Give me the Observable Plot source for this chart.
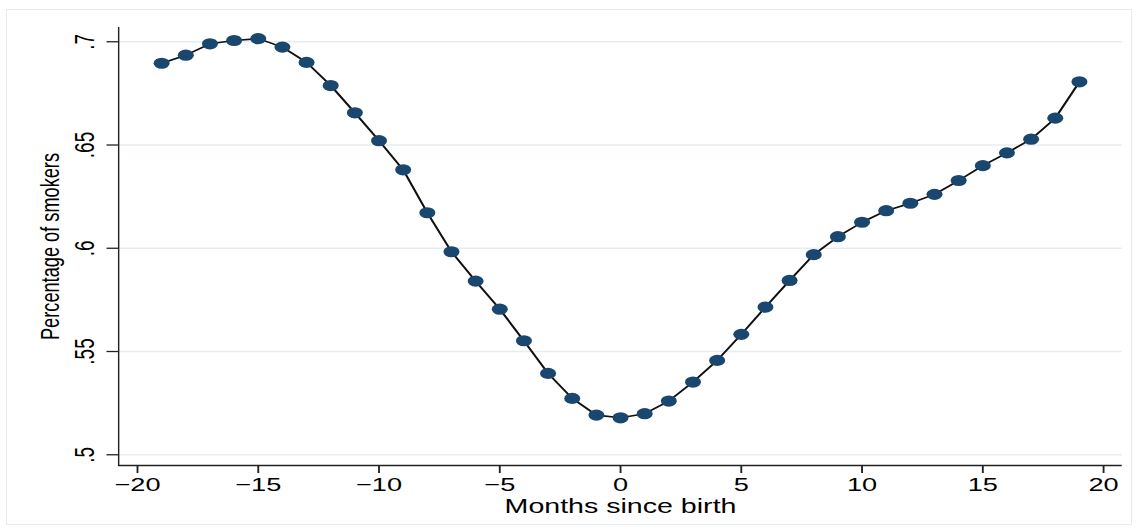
<!DOCTYPE html>
<html>
<head>
<meta charset="utf-8">
<script src="https://cdn.jsdelivr.net/npm/d3@7"></script>
<script src="https://cdn.jsdelivr.net/npm/@observablehq/plot@0.6"></script>
<style>
  html, body { margin: 0; padding: 0; background: #fff; }
  #wrap { position: relative; width: 1138px; height: 532px; overflow: hidden; background: #fff; }
  #border { position: absolute; left: 6px; top: 9px; width: 1124px; height: 514px; border: 1.5px solid #e6edf0; pointer-events: none; }
  #chart { position: absolute; left: 0; top: 0; }
</style>
</head>
<body>
<div id="wrap"><div id="chart"></div><div id="border"></div></div>
<script>
// ---- data ----
const months = [-19, -18, -17, -16, -15, -14, -13, -12, -11, -10, -9, -8, -7, -6, -5, -4, -3, -2, -1, 0,
  1, 2, 3, 4, 5, 6, 7, 8, 9, 10, 11, 12, 13, 14, 15, 16, 17, 18, 19];
const smokers = [0.6896, 0.6935, 0.6990, 0.7006, 0.7015, 0.6974, 0.6900, 0.6788, 0.6656, 0.6521, 0.6380,
  0.6172, 0.5983, 0.5841, 0.5705, 0.5552, 0.5394, 0.5273, 0.5192, 0.5179,
  0.5199, 0.5260, 0.5352, 0.5457, 0.5583, 0.5715, 0.5844, 0.5969, 0.6056, 0.6126,
  0.6182, 0.6218, 0.6261, 0.6328, 0.6400, 0.6462, 0.6528, 0.6630, 0.6806];
const xTicks = [-20, -15, -10, -5, 0, 5, 10, 15, 20];
const xTickLabels = ["\u221220", "\u221215", "\u221210", "\u22125", "0", "5", "10", "15", "20"];
const yTicks = [0.5, 0.55, 0.6, 0.65, 0.7];
const yTickLabels = [".5", ".55", ".6", ".65", ".7"];
const xDomain = [-20.78, 20.78];
const yDomain = [0.4948, 0.7069];
const xTitle = "Months since birth";
const yTitle = "Percentage of smokers";

const data = months.map((m, i) => ({month: m, share: smokers[i]}));

// The reference is horizontally stretched; draw at a narrower virtual width and stretch.
const W = 1138, H = 532, k = 1.4296;
const VW = W / k;
const font = "'Liberation Sans', Arial, Helvetica, sans-serif";

const svg = Plot.plot({
  width: VW,
  height: H,
  marginLeft: 82.5,
  marginRight: VW - 1121.7 / k,
  marginTop: 27,
  marginBottom: 67,
  style: {fontFamily: font, color: "#000", background: "#fff"},
  x: {domain: xDomain},
  y: {domain: yDomain},
  marks: [
    Plot.gridY(yTicks, {stroke: "#e6edf0", strokeOpacity: 1, strokeWidth: 1.6}),
    Plot.ruleX([xDomain[0]], {stroke: "#222", strokeWidth: 1}),
    Plot.ruleY([yDomain[0]], {stroke: "#222", strokeWidth: 1.3}),
    Plot.axisX({
      ticks: xTicks, tickSize: 8, tickPadding: 4, fontSize: 19,
      tickFormat: d => xTickLabels[xTicks.indexOf(d)],
      stroke: "#222", strokeWidth: 1.3, label: null
    }),
    Plot.axisY({
      ticks: yTicks, tickSize: 8, tickPadding: 9.5, tickRotate: -90, fontSize: 19,
      tickFormat: d => yTickLabels[yTicks.indexOf(d)],
      stroke: "#222", strokeWidth: 1.3, label: null
    }),
    Plot.text([yTitle], {frameAnchor: "left", rotate: -90, dx: -41.6, lineAnchor: "bottom", textAnchor: "middle", text: d => d, fontSize: 18.2, fill: "#000"}),
    Plot.text([xTitle], {frameAnchor: "bottom", dy: 47.5, lineAnchor: "bottom", textAnchor: "middle", text: d => d, fontSize: 20, fill: "#000"}),
    Plot.line(data, {x: "month", y: "share", stroke: "#111", strokeWidth: 1.6}),
    Plot.dot(data, {x: "month", y: "share", r: 5.6, fill: "#1a476f", stroke: "none"})
  ]
});

svg.setAttribute("width", W);
svg.setAttribute("height", H);
svg.setAttribute("viewBox", `0 0 ${VW} ${H}`);
svg.setAttribute("preserveAspectRatio", "none");
svg.style.width = W + "px";
svg.style.height = H + "px";
svg.style.maxWidth = "none";
document.getElementById("chart").appendChild(svg);
</script>
</body>
</html>
